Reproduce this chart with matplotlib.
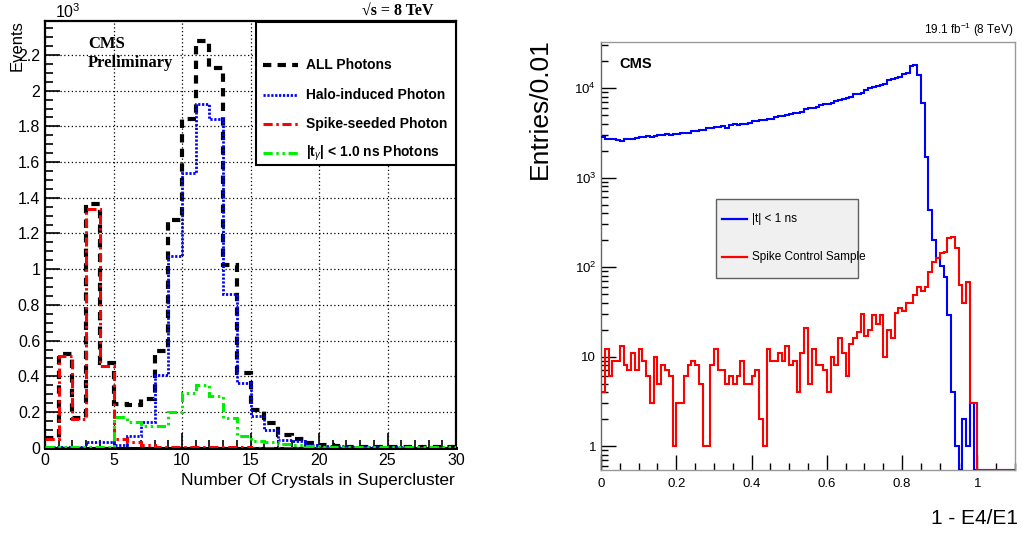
import numpy as np
import matplotlib
matplotlib.use("Agg")
import matplotlib.pyplot as plt
from matplotlib.ticker import FixedLocator, MultipleLocator, FuncFormatter, LogLocator, NullFormatter
from matplotlib.patches import Rectangle
from matplotlib.lines import Line2D

# ---------------- Left: number of crystals in the supercluster ----------------
n_crystal_bins = 30
all_photons = [56, 523, 165, 1365, 476, 243, 240, 273, 543, 1276,
               1840, 2278, 2129, 1023, 420, 211, 137, 71, 47, 25,
               13, 10, 6, 5, 4, 4, 3, 3, 2, 2]
halo_photons = [5, 5, 5, 34, 34, 15, 66, 146, 407, 1076,
                1537, 1926, 1840, 859, 360, 176, 99, 43, 35, 15,
                8, 8, 4, 3, 2, 2, 1, 1, 1, 1]
spike_photons = [50, 515, 162, 1337, 458, 49, 34, 13, 3, 2,
                 2, 2, 2, 2, 2, 1, 1, 1, 1, 1,
                 1, 1, 1, 0, 0, 0, 0, 0, 0, 0]
intime_photons = [2, 2, 2, 2, 2, 174, 146, 123, 123, 202,
                  305, 351, 290, 166, 64, 40, 30, 20, 14, 10,
                  6, 5, 4, 3, 3, 3, 2, 2, 2, 2]
left_legend = ["ALL Photons", "Halo-induced Photon", "Spike-seeded Photon",
               r"|t$_{\gamma}$| < 1.0 ns Photons"]

# ---------------- Right: 1 - E4/E1 swiss-cross variable ----------------
e4e1_nbins = 110
e4e1_width = 0.01
intime_swiss = [2860, 2700, 2690, 2700, 2660, 2560, 2700, 2720, 2700, 2780,
                2860, 2850, 2880, 2850, 2900, 3000, 2980, 3050, 2990, 3040,
                3080, 3160, 3120, 3180, 3350, 3300, 3400, 3420, 3600, 3560,
                3650, 3700, 3780, 3600, 3850, 3950, 3900, 4000, 4020, 4100,
                4300, 4280, 4400, 4450, 4500, 4550, 4700, 4900, 4880, 5000,
                5150, 5300, 5250, 5450, 5800, 5950, 6050, 6200, 6450, 6600,
                6700, 6800, 7200, 7400, 7500, 7800, 7950, 8500, 8700, 8900,
                9600, 9900, 10200, 10600, 10900, 11200, 12300, 12600, 13000, 13400,
                14300, 14900, 17600, 18000, 14000, 6760, 1700, 437, 200, 125,
                103, 78, 29, 4, 1, 0, 2, 1, 3, 0,
                0, 0, 0, 0, 0, 0, 0, 0, 0, 0]
spike_swiss = [4, 12, 6, 9, 9, 13, 8, 7, 11, 7,
               12, 9, 6, 3, 10, 5, 8, 7, 6, 1,
               3, 3, 6, 8, 9, 8, 5, 1, 1, 8,
               12, 7, 7, 5, 6, 5, 6, 9, 5, 5,
               6, 7, 2, 1, 12, 9, 9, 11, 9, 13,
               8, 9, 4, 11, 21, 5, 12, 8, 8, 7,
               4, 10, 8, 16, 11, 6, 14, 16, 19, 30,
               17, 20, 29, 23, 29, 10, 20, 16, 31, 35,
               32, 40, 40, 49, 60, 54, 60, 89, 115, 125,
               145, 148, 210, 218, 164, 63, 40, 69, 3, 3,
               0, 0, 0, 0, 0, 0, 0, 0, 0, 0]
right_legend = ["|t| < 1 ns", "Spike Control Sample"]
right_xticks = [0, 0.2, 0.4, 0.6, 0.8, 1.0]
right_yticks = [1, 10, 100, 1000, 10000]
right_yticklabels = ["1", "10", r"10$^{2}$", r"10$^{3}$", r"10$^{4}$"]

SANS = ["Liberation Sans", "DejaVu Sans"]
NARROW = ["Liberation Sans Narrow", "Liberation Sans", "DejaVu Sans"]
SERIF = ["Liberation Serif", "DejaVu Serif"]
plt.rcParams["font.family"] = SANS
plt.rcParams["mathtext.fontset"] = "custom"
plt.rcParams["mathtext.rm"] = "Liberation Sans"
plt.rcParams["mathtext.it"] = "Liberation Sans:italic"
plt.rcParams["mathtext.bf"] = "Liberation Sans:bold"

fig = plt.figure(figsize=(10.23, 5.36), dpi=100)

# ======================= left panel =======================
axl = fig.add_axes([0.044, 0.1647, 0.4018, 0.7967])
edges_l = np.arange(n_crystal_bins + 1)
scale = 1e-3
styles = [
    (all_photons, "black", 3.0, (0, (2.0, 1.5))),
    (halo_photons, "#0000ff", 2.0, (0, (0.8, 0.6))),
    (spike_photons, "#ff0000", 2.2, (0, (3, 1.2, 0.8, 1.2))),
    (intime_photons, "#00ee00", 2.2, (0, (3, 1.2, 0.8, 1.2, 0.8, 1.2))),
]
for vals, col, lw, ls in styles:
    axl.stairs(np.asarray(vals) * scale, edges_l, baseline=None,
               color=col, lw=lw, linestyle=ls, zorder=3)

axl.set_xlim(0, 30)
axl.set_ylim(0, 2.392)
axl.xaxis.set_major_locator(MultipleLocator(5))
axl.xaxis.set_minor_locator(MultipleLocator(1))
axl.yaxis.set_major_locator(MultipleLocator(0.2))
axl.yaxis.set_minor_locator(MultipleLocator(0.05))
axl.yaxis.set_major_formatter(FuncFormatter(lambda v, p: "%g" % round(v, 2)))
axl.tick_params(which="both", direction="in", top=False, right=False,
                labelsize=11.5, width=1.2)
axl.tick_params(which="major", length=11)
axl.tick_params(which="minor", length=6)
axl.tick_params(axis="x", pad=4)
axl.grid(True, which="major", color="black", linestyle=(0, (1, 2)), lw=0.9)
for s in axl.spines.values():
    s.set_linewidth(1.6)
axl.spines["bottom"].set_linewidth(2.2)

# legend box
axl.add_patch(Rectangle((0.513, 0.662), 0.487, 0.336, transform=axl.transAxes,
                        facecolor="white", edgecolor="black", lw=1.5, zorder=5))
leg_y = [65, 95, 124, 153]
for (vals, col, lw, ls), lab, yp in zip(styles, left_legend, leg_y):
    ya = (447.7 - yp) / 427.0
    axl.add_line(Line2D([(263 - 45) / 411, (298 - 45) / 411], [ya, ya],
                        transform=axl.transAxes, color=col, lw=lw,
                        linestyle=ls, zorder=6))
    axl.text((306 - 45) / 411, ya, lab, transform=axl.transAxes, ha="left",
             va="center", fontsize=10, fontweight="bold", zorder=6)

axl.text(0.105, 0.945, "CMS", transform=axl.transAxes, fontsize=12,
         fontweight="bold", family=SERIF, va="center", ha="left", zorder=6)
axl.text(0.105, 0.9, "Preliminary", transform=axl.transAxes, fontsize=12,
         fontweight="bold", family=SERIF, va="center", ha="left", zorder=6)

fig.text(398 / 1023, 1 - 11 / 536, "√s = 8 TeV", fontsize=11.5,
         fontweight="bold", family=SERIF, ha="center", va="center")
fig.text(68 / 1023, 1 - 12 / 536, r"10$^{3}$", fontsize=11.5,
         ha="center", va="center")
fig.text(17 / 1023, 1 - 20 / 536, "Events", rotation=90, fontsize=12,
         ha="center", va="top")
fig.text(455 / 1023, 1 - 481 / 536, "Number Of Crystals in Supercluster",
         fontsize=12.5, ha="right", va="center")

# ======================= right panel =======================
axr = fig.add_axes([0.5875, 0.1231, 0.4047, 0.7991])
edges_r = np.arange(e4e1_nbins + 1) * e4e1_width
ymin_r, ymax_r = 0.54, 3.3e4
for vals, col in [(intime_swiss, "#0000ff"), (spike_swiss, "#ff0000")]:
    v = np.asarray(vals, dtype=float)
    v = np.where(v > 0, v, ymin_r)
    axr.stairs(v, edges_r, baseline=None, color=col, lw=1.5, zorder=3)

axr.set_yscale("log")
axr.set_xlim(0, 1.1)
axr.set_ylim(ymin_r, ymax_r)
axr.xaxis.set_major_locator(FixedLocator(right_xticks))
axr.xaxis.set_major_formatter(FuncFormatter(lambda v, p: "%g" % round(v, 2)))
axr.xaxis.set_minor_locator(MultipleLocator(0.05))
axr.yaxis.set_major_locator(FixedLocator(right_yticks))
axr.set_yticklabels(right_yticklabels)
axr.yaxis.set_minor_locator(LogLocator(base=10, subs=np.arange(2, 10)))
axr.yaxis.set_minor_formatter(NullFormatter())
axr.tick_params(which="both", direction="in", top=False, right=False,
                labelsize=9.5, width=1.0)
axr.tick_params(which="major", length=11)
axr.tick_params(which="minor", length=5)
axr.tick_params(axis="x", pad=6)
for lab in axr.get_xticklabels() + axr.get_yticklabels():
    lab.set_family(NARROW)
for s in axr.spines.values():
    s.set_color("#999999")
    s.set_linewidth(1.0)
axr.spines["left"].set_color("#666666")

# legend box
lx0, lx1 = (716 - 601) / 414, (858 - 601) / 414
ly0, ly1 = (470 - 278) / 428.3, (470 - 199) / 428.3
axr.add_patch(Rectangle((lx0, ly0), lx1 - lx0, ly1 - ly0, transform=axr.transAxes,
                        facecolor="#f0f0f0", edgecolor="#606060", lw=1.0, zorder=5))
for lab, col, yp in zip(right_legend, ["#0000ff", "#ff0000"], [219, 257]):
    ya = (470 - yp) / 428.3
    axr.add_line(Line2D([(722 - 601) / 414, (747 - 601) / 414], [ya, ya],
                        transform=axr.transAxes, color=col, lw=1.6, zorder=6))
    axr.text((752 - 601) / 414, ya, lab, transform=axr.transAxes, ha="left",
             va="center", fontsize=8.5, family=NARROW, zorder=6)

axr.text((619 - 601) / 414, (470 - 64) / 428.3, "CMS", transform=axr.transAxes,
         fontsize=10.5, fontweight="bold", family=NARROW, ha="left", va="center")
fig.text(1014 / 1023, 1 - 30 / 536, r"19.1 fb$^{-1}$ (8 TeV)", fontsize=8.5,
         family=NARROW, ha="right", va="center")
fig.text(540 / 1023, 1 - 38 / 536, "Entries/0.01", rotation=90, fontsize=19,
         ha="center", va="top")
fig.text(1018 / 1023, 1 - 518 / 536, "1 - E4/E1", fontsize=15,
         ha="right", va="center")

fig.savefig("out.png", dpi=100)
